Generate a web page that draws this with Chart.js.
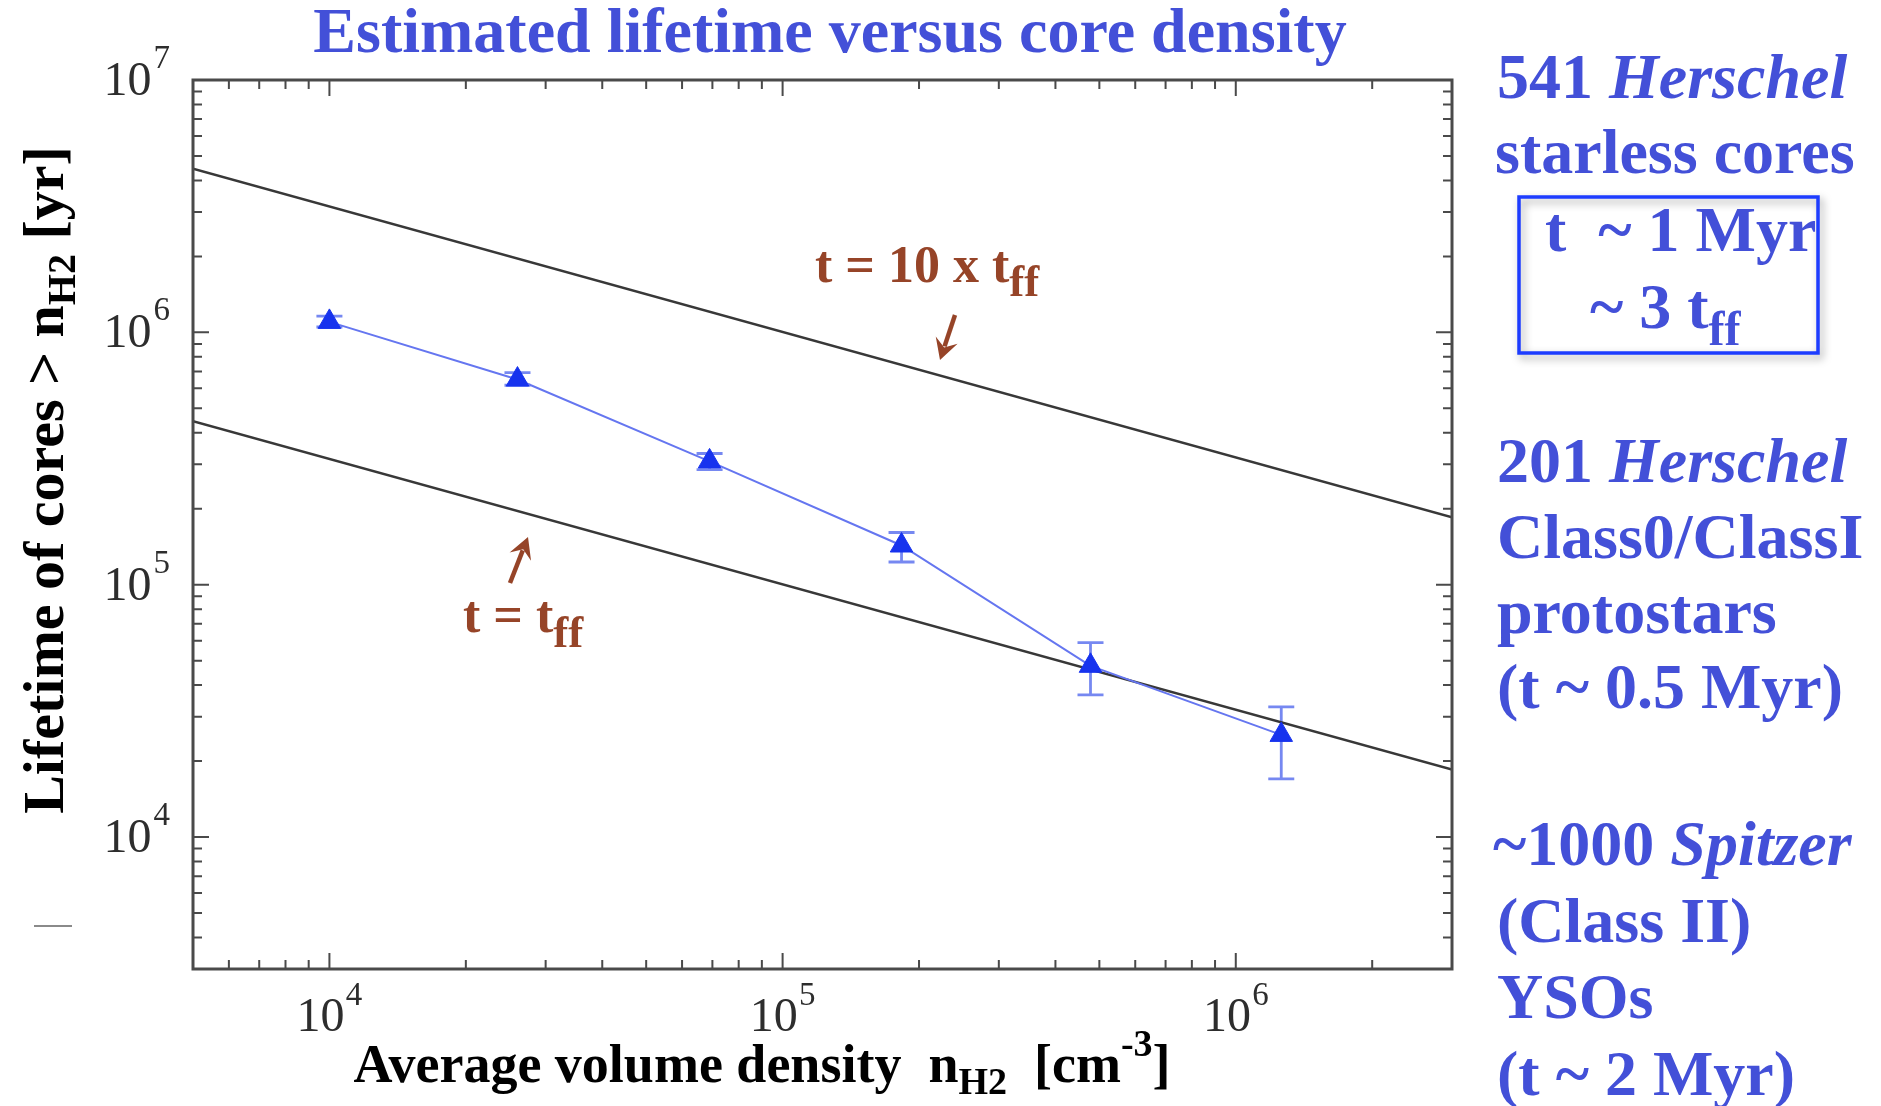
<!DOCTYPE html>
<html>
<head>
<meta charset="utf-8">
<title>Estimated lifetime versus core density</title>
<script src="https://cdn.jsdelivr.net/npm/chart.js@4.4.1/dist/chart.umd.min.js"></script>
<style>
    html, body { margin: 0; padding: 0; background: #fff; }
    #wrap { position: relative; width: 1881px; height: 1106px; }
</style>
</head>
<body>
<div id="wrap"><canvas id="lifeChart"></canvas></div>
<script>
// core lifetimes (n_H2 in cm^-3, lifetime in yr)
const densities = [1.0e4, 2.6e4, 6.9e4, 1.83e5, 4.78e5, 1.26e6];
const lifetimes = [1.1e6, 6.5e5, 3.08e5, 1.43e5, 4.77e4, 2.54e4];
const errLow    = [1.05e6, 6.17e5, 2.86e5, 1.23e5, 3.66e4, 1.70e4];
const errHigh   = [1.16e6, 6.93e5, 3.31e5, 1.61e5, 5.9e4, 3.28e4];

// reference lines, end points only (straight on log-log)
const lineDensity = [5e3, 3e6];
const tffLine     = [4.45e5, 1.85e4];
const tff10Line   = [4.45e6, 1.85e5];

// axes
const xRange = [5e3, 3e6];
const yRange = [3e3, 1e7];
const xTickValues = [1e4, 1e5, 1e6];
const yTickValues = [1e4, 1e5, 1e6, 1e7];

const BLUE = '#4350d8';
const BROWN = '#964428';
const SERIF = '"Liberation Serif", "Times New Roman", serif';

function f(style, size) {
    return style + ' ' + size + 'px ' + SERIF;
}

// draw a run of text pieces: [text, font, dy]
function richText(ctx, parts, x, y, align) {
    let w = 0;
    parts.forEach(p => { ctx.font = p[1]; w += ctx.measureText(p[0]).width; });
    let cx = x;
    if (align === 'center') cx = x - w / 2;
    if (align === 'right') cx = x - w;
    ctx.textAlign = 'left';
    ctx.textBaseline = 'alphabetic';
    parts.forEach(p => {
        ctx.font = p[1];
        ctx.fillText(p[0], cx, y + (p[2] || 0));
        cx += ctx.measureText(p[0]).width;
    });
    return w;
}

function arrow(ctx, x1, y1, x2, y2, color) {
    const ang = Math.atan2(y2 - y1, x2 - x1);
    const head = 24;
    ctx.save();
    ctx.strokeStyle = color;
    ctx.fillStyle = color;
    ctx.lineWidth = 4.5;
    ctx.beginPath();
    ctx.moveTo(x1, y1);
    ctx.lineTo(x2 - Math.cos(ang) * head * 0.6, y2 - Math.sin(ang) * head * 0.6);
    ctx.stroke();
    ctx.beginPath();
    ctx.moveTo(x2, y2);
    ctx.lineTo(x2 - head * Math.cos(ang - 0.5), y2 - head * Math.sin(ang - 0.5));
    ctx.lineTo(x2 - head * 0.55 * Math.cos(ang), y2 - head * 0.55 * Math.sin(ang));
    ctx.lineTo(x2 - head * Math.cos(ang + 0.5), y2 - head * Math.sin(ang + 0.5));
    ctx.closePath();
    ctx.fill();
    ctx.restore();
}

// minor/major ticks pointing into the box, on all four sides
function logTicks(ctx, scale, area, horizontal) {
    const e0 = Math.floor(Math.log10(scale.min));
    const e1 = Math.ceil(Math.log10(scale.max));
    for (let e = e0; e <= e1; e++) {
        for (let m = 1; m <= 9; m++) {
            const v = m * Math.pow(10, e);
            if (v <= scale.min * 1.001 || v >= scale.max * 0.999) continue;
            const p = scale.getPixelForValue(v);
            const len = m === 1 ? 16 : 9;
            ctx.beginPath();
            if (horizontal) {
                ctx.moveTo(p, area.bottom); ctx.lineTo(p, area.bottom - len);
                ctx.moveTo(p, area.top); ctx.lineTo(p, area.top + len);
            } else {
                ctx.moveTo(area.left, p); ctx.lineTo(area.left + len, p);
                ctx.moveTo(area.right, p); ctx.lineTo(area.right - len, p);
            }
            ctx.stroke();
        }
    }
}

const errorBars = {
    id: 'errorBars',
    beforeDatasetsDraw(chart) {
        const ctx = chart.ctx;
        const xs = chart.scales.x, ys = chart.scales.y;
        ctx.save();
        ctx.strokeStyle = 'rgba(60, 85, 235, 0.7)';
        ctx.lineWidth = 2.8;
        densities.forEach((d, i) => {
            const px = xs.getPixelForValue(d);
            const lo = ys.getPixelForValue(errLow[i]);
            const hi = ys.getPixelForValue(errHigh[i]);
            ctx.beginPath();
            ctx.moveTo(px, lo); ctx.lineTo(px, hi);
            ctx.moveTo(px - 13, lo); ctx.lineTo(px + 13, lo);
            ctx.moveTo(px - 13, hi); ctx.lineTo(px + 13, hi);
            ctx.stroke();
        });
        ctx.restore();
    }
};

const decorations = {
    id: 'decorations',
    beforeDraw(chart) {
        const ctx = chart.ctx;
        ctx.save();
        ctx.fillStyle = '#fff';
        ctx.fillRect(0, 0, chart.width, chart.height);
        ctx.restore();
    },
    afterDraw(chart) {
        const ctx = chart.ctx;
        const a = chart.chartArea;
        const xs = chart.scales.x, ys = chart.scales.y;
        ctx.save();

        // frame + ticks
        ctx.strokeStyle = '#4a4a4a';
        ctx.lineWidth = 2;
        logTicks(ctx, xs, a, true);
        logTicks(ctx, ys, a, false);
        ctx.lineWidth = 3;
        ctx.strokeRect(a.left, a.top, a.right - a.left, a.bottom - a.top);

        // tick labels 10^n
        ctx.fillStyle = '#2d2d2d';
        yTickValues.forEach(v => {
            const p = ys.getPixelForValue(v);
            const ex = String(Math.round(Math.log10(v)));
            ctx.font = f('normal', 33);
            const we = ctx.measureText(ex).width;
            richText(ctx, [['10', f('normal', 48)]], a.left - 23 - we - 2, p + 15, 'right');
            richText(ctx, [[ex, f('normal', 33)]], a.left - 23 - we, p - 12, 'left');
        });
        xTickValues.forEach(v => {
            const p = xs.getPixelForValue(v);
            const ex = String(Math.round(Math.log10(v)));
            richText(ctx, [['10', f('normal', 48), 0], [' ', f('normal', 5), 0], [ex, f('normal', 33), -26]],
                p, a.bottom + 62, 'center');
        });

        // title
        ctx.fillStyle = BLUE;
        richText(ctx, [['Estimated lifetime versus core density', f('bold', 64)]], 830, 52, 'center');

        // axis titles
        ctx.fillStyle = '#000';
        richText(ctx, [
            ['Average volume density  n', f('bold', 54)],
            ['H2', f('bold', 38), 12],
            ['  [cm', f('bold', 54)],
            ['-3', f('bold', 38), -26],
            [']', f('bold', 54)]
        ], 762, 1082, 'center');

        ctx.save();
        ctx.translate(63, 480);
        ctx.rotate(-Math.PI / 2);
        richText(ctx, [
            ['Lifetime of cores > n', f('bold', 58)],
            ['H2', f('bold', 40), 12],
            [' [yr]', f('bold', 58)]
        ], 0, 0, 'center');
        ctx.restore();

        // stray dash at the left edge of the original
        ctx.strokeStyle = '#8a8a8a';
        ctx.lineWidth = 2;
        ctx.beginPath();
        ctx.moveTo(34, 926); ctx.lineTo(72, 926);
        ctx.stroke();

        // line annotations
        ctx.fillStyle = BROWN;
        richText(ctx, [['t = 10 x t', f('bold', 52)], ['ff', f('bold', 45), 14]], 815, 282, 'left');
        arrow(ctx, 955, 315, 940, 360, BROWN);
        richText(ctx, [['t = t', f('bold', 52)], ['ff', f('bold', 45), 15]], 463, 632, 'left');
        arrow(ctx, 510, 583, 528, 537, BROWN);

        // right hand notes
        ctx.fillStyle = BLUE;
        richText(ctx, [['541 ', f('bold', 64)], ['Herschel', f('italic bold', 64)]], 1497, 98, 'left');
        richText(ctx, [['starless cores', f('bold', 64)]], 1495, 173, 'left');

        ctx.save();
        ctx.shadowColor = 'rgba(0,0,0,0.35)';
        ctx.shadowBlur = 8;
        ctx.shadowOffsetX = 3;
        ctx.shadowOffsetY = 4;
        ctx.strokeStyle = '#1d3cff';
        ctx.lineWidth = 3.5;
        ctx.strokeRect(1519, 197, 299, 156);
        ctx.restore();
        richText(ctx, [['t  ~ 1 Myr', f('bold', 64)]], 1545, 251, 'left');
        richText(ctx, [['~ 3 t', f('bold', 64)], ['ff', f('bold', 48), 17]], 1590, 328, 'left');

        richText(ctx, [['201 ', f('bold', 64)], ['Herschel', f('italic bold', 64)]], 1497, 482, 'left');
        richText(ctx, [['Class0/ClassI', f('bold', 64)]], 1497, 558, 'left');
        richText(ctx, [['protostars', f('bold', 64)]], 1497, 633, 'left');
        richText(ctx, [['(t ~ 0.5 Myr)', f('bold', 64)]], 1497, 708, 'left');

        richText(ctx, [['~1000 ', f('bold', 64)], ['Spitzer', f('italic bold', 64)]], 1493, 865, 'left');
        richText(ctx, [['(Class II)', f('bold', 64)]], 1497, 942, 'left');
        richText(ctx, [['YSOs', f('bold', 64)]], 1497, 1018, 'left');
        richText(ctx, [['(t ~ 2 Myr)', f('bold', 64)]], 1497, 1095, 'left');

        ctx.restore();
    }
};

const ctx = document.getElementById('lifeChart');

const lifeChart = new Chart(ctx, {
    type: 'scatter',
    plugins: [errorBars, decorations],
    data: {
        datasets: [
            {
                label: 'Starless cores',
                data: densities.map((d, i) => ({ x: d, y: lifetimes[i] })),
                showLine: true,
                borderColor: '#6576f0',
                borderWidth: 2,
                pointStyle: 'triangle',
                pointRadius: 13,
                pointBackgroundColor: '#1733ee',
                pointBorderColor: '#1733ee',
                pointBorderWidth: 1
            },
            {
                label: 't = 10 x tff',
                data: lineDensity.map((d, i) => ({ x: d, y: tff10Line[i] })),
                showLine: true,
                borderColor: '#383838',
                borderWidth: 2.5,
                pointRadius: 0
            },
            {
                label: 't = tff',
                data: lineDensity.map((d, i) => ({ x: d, y: tffLine[i] })),
                showLine: true,
                borderColor: '#383838',
                borderWidth: 2.5,
                pointRadius: 0
            }
        ]
    },
    options: {
        responsive: true,
        maintainAspectRatio: false,
        animation: false,
        layout: {
            autoPadding: false,
            padding: { left: 193, top: 80, right: 429, bottom: 137 }
        },
        scales: {
            x: { type: 'logarithmic', min: xRange[0], max: xRange[1], display: false },
            y: { type: 'logarithmic', min: yRange[0], max: yRange[1], display: false }
        },
        plugins: {
            legend: { display: false },
            tooltip: { enabled: false }
        }
    }
});
</script>
</body>
</html>
